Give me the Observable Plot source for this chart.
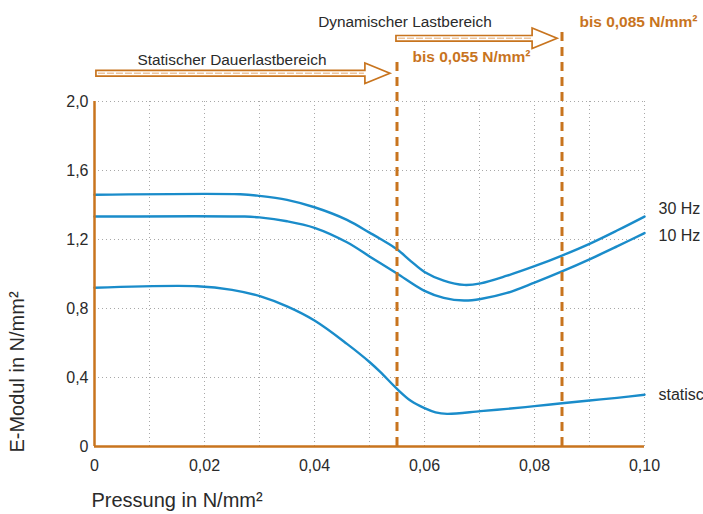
<!DOCTYPE html>
<html>
<head>
<meta charset="utf-8">
<script src="https://cdn.jsdelivr.net/npm/d3@7"></script>
<script src="https://cdn.jsdelivr.net/npm/@observablehq/plot@0.6"></script>
<style>
  html, body { margin: 0; padding: 0; background: #fff; overflow: hidden; }
</style>
</head>
<body>
<div id="chart"></div>
<script>
// ---------- data ----------
const seriesNames = ["30 Hz", "10 Hz", "statisch"];

const pressure30 = [0, 0.0265, 0.03, 0.035, 0.04, 0.0459, 0.05, 0.052, 0.055, 0.0575, 0.06, 0.0635, 0.0672, 0.0702, 0.075, 0.08, 0.085, 0.09, 0.095, 0.1];
const modulus30  = [1.459, 1.462, 1.453, 1.430, 1.387, 1.314, 1.240, 1.203, 1.143, 1.075, 1.012, 0.962, 0.937, 0.946, 0.990, 1.045, 1.107, 1.175, 1.252, 1.333];

const pressure10 = [0, 0.0273, 0.03, 0.035, 0.04, 0.0459, 0.05, 0.052, 0.055, 0.0599, 0.0635, 0.0672, 0.0702, 0.075, 0.08, 0.085, 0.09, 0.095, 0.1];
const modulus10  = [1.333, 1.333, 1.328, 1.306, 1.268, 1.184, 1.102, 1.062, 1.003, 0.904, 0.862, 0.846, 0.855, 0.890, 0.950, 1.015, 1.085, 1.160, 1.237];

const pressureStat = [0, 0.0187, 0.025, 0.0302, 0.035, 0.04, 0.0459, 0.05, 0.052, 0.055, 0.0575, 0.06, 0.062, 0.0641, 0.0702, 0.075, 0.08, 0.085, 0.09, 0.095, 0.1];
const modulusStat  = [0.92, 0.929, 0.908, 0.870, 0.812, 0.730, 0.595, 0.490, 0.431, 0.334, 0.265, 0.222, 0.198, 0.189, 0.205, 0.218, 0.234, 0.251, 0.267, 0.282, 0.300];

const limits = [0.055, 0.085];                       // load-range limits (N/mm²)
const limitLabels = ["bis 0,055 N/mm²", "bis 0,085 N/mm²"];
const rangeLabels = ["Statischer Dauerlastbereich", "Dynamischer Lastbereich"];

const xTicks = [0, 0.02, 0.04, 0.06, 0.08, 0.10];
const xGrid  = [0.01, 0.02, 0.03, 0.04, 0.05, 0.06, 0.07, 0.08, 0.09, 0.10];
const yTicks = [0, 0.4, 0.8, 1.2, 1.6, 2.0];
const yGrid  = [0.4, 0.8, 1.2, 1.6, 2.0];

const xLabel = "Pressung in N/mm²";
const yLabel = "E-Modul in N/mm²";

// ---------- build table ----------
const rows = [
  ...pressure30.map((p, i) => ({series: seriesNames[0], p, e: modulus30[i]})),
  ...pressure10.map((p, i) => ({series: seriesNames[1], p, e: modulus10[i]})),
  ...pressureStat.map((p, i) => ({series: seriesNames[2], p, e: modulusStat[i]}))
];

// ---------- styles / annotation placement ----------
const ORANGE = "#c8741e";
const BLUE = "#1a8cca";
const TEXT = "#2a2a2a";
const FONT = "'Liberation Sans', Arial, sans-serif";

const endLabelPos = [{x: 0.10255, y: 1.380}, {x: 0.10255, y: 1.223}, {x: 0.10255, y: 0.301}];
const arrowSpecs = [
  {from: 0.00035, to: 0.0538, y: 2.161},
  {from: 0.0549,  to: 0.0842, y: 2.3635}
];
const rangeLabelPos = [{x: 0.025, y: 2.243}, {x: 0.05645, y: 2.459}];
const limitLabelPos = [{x: 0.06855, y: 2.257}, {x: 0.0989, y: 2.459}];
const limitTop = [2.232, 2.423];

const fmtX = d => d === 0 ? "0" : d.toFixed(2).replace(".", ",");
const fmtY = d => d === 0 ? "0" : d.toFixed(1).replace(".", ",");

// hollow block arrow drawn through Plot's scales
const hollowArrow = (a) => (index, scales) => {
  const x1 = scales.x(a.from), x2 = scales.x(a.to), y = scales.y(a.y);
  const hw = 2.8, hh = 10.3, hl = 25;
  const xb = x2 - hl;
  const pts = [[x1, y - hw], [xb, y - hw], [xb, y - hh], [x2, y], [xb, y + hh], [xb, y + hw], [x1, y + hw]];
  const g = d3.create("svg:g");
  g.append("polygon")
    .attr("points", pts.map(p => p.join(",")).join(" "))
    .attr("fill", "#fff")
    .attr("stroke", ORANGE)
    .attr("stroke-width", 1.7)
    .attr("stroke-linejoin", "miter");
  g.append("line")
    .attr("x1", x1 + 2).attr("x2", xb - 1).attr("y1", y).attr("y2", y)
    .attr("stroke", "#edc49c").attr("stroke-width", 1.4).attr("stroke-dasharray", "7,2");
  return g.node();
};

const chart = Plot.plot({
  width: 703,
  height: 514,
  marginLeft: 94,
  marginRight: 59,
  marginTop: 101,
  marginBottom: 68,
  style: {fontFamily: FONT, fontSize: "16px", color: TEXT, background: "#fff", overflow: "visible"},
  x: {domain: [0, 0.1], ticks: xTicks, tickFormat: fmtX, tickSize: 0, tickPadding: 13, label: null},
  y: {domain: [0, 2], ticks: yTicks, tickFormat: fmtY, tickSize: 0, tickPadding: 6, label: null},
  marks: [
    // dotted grid
    Plot.ruleX(xGrid, {y1: 0, y2: 2, stroke: "#a8a8a8", strokeDasharray: "1,3", strokeWidth: 1}),
    Plot.ruleY(yGrid, {x1: 0, x2: 0.1, stroke: "#a8a8a8", strokeDasharray: "1,3", strokeWidth: 1}),
    // curves
    Plot.line(rows, {x: "p", y: "e", z: "series", stroke: BLUE, strokeWidth: 2.4, curve: "catmull-rom"}),
    // orange axes
    Plot.ruleX([0], {y1: 0, y2: 2, stroke: ORANGE, strokeWidth: 2.5}),
    Plot.ruleY([0], {x1: 0, x2: 0.1, stroke: ORANGE, strokeWidth: 2.5}),
    // limit lines
    Plot.ruleX(limits, {y1: 0, y2: (d, i) => limitTop[i], stroke: ORANGE, strokeWidth: 3, strokeDasharray: "9,6"}),
    // arrows
    hollowArrow(arrowSpecs[0]),
    hollowArrow(arrowSpecs[1]),
    // range labels
    Plot.text(rangeLabels, {x: (d, i) => rangeLabelPos[i].x, y: (d, i) => rangeLabelPos[i].y, text: d => d,
      fontSize: 15.4, fill: TEXT, textAnchor: "middle", lineAnchor: "middle"}),
    Plot.text(limitLabels, {x: (d, i) => limitLabelPos[i].x, y: (d, i) => limitLabelPos[i].y, text: d => d,
      fontSize: 15.5, fontWeight: "bold", fill: ORANGE, textAnchor: "middle", lineAnchor: "middle"}),
    // series end labels
    Plot.text(seriesNames, {x: (d, i) => endLabelPos[i].x, y: (d, i) => endLabelPos[i].y, text: d => d,
      textAnchor: "start", lineAnchor: "middle", fontSize: 16, fill: TEXT}),
    // axis titles
    Plot.text([yLabel], {x: -0.0139, y: 0.432, text: d => d, rotate: -90, fontSize: 20, fill: TEXT,
      textAnchor: "middle", lineAnchor: "middle"}),
    Plot.text([xLabel], {x: -0.00055, y: -0.313, text: d => d, fontSize: 20, fill: TEXT,
      textAnchor: "start", lineAnchor: "middle"})
  ]
});

document.getElementById("chart").append(chart);
</script>
</body>
</html>
